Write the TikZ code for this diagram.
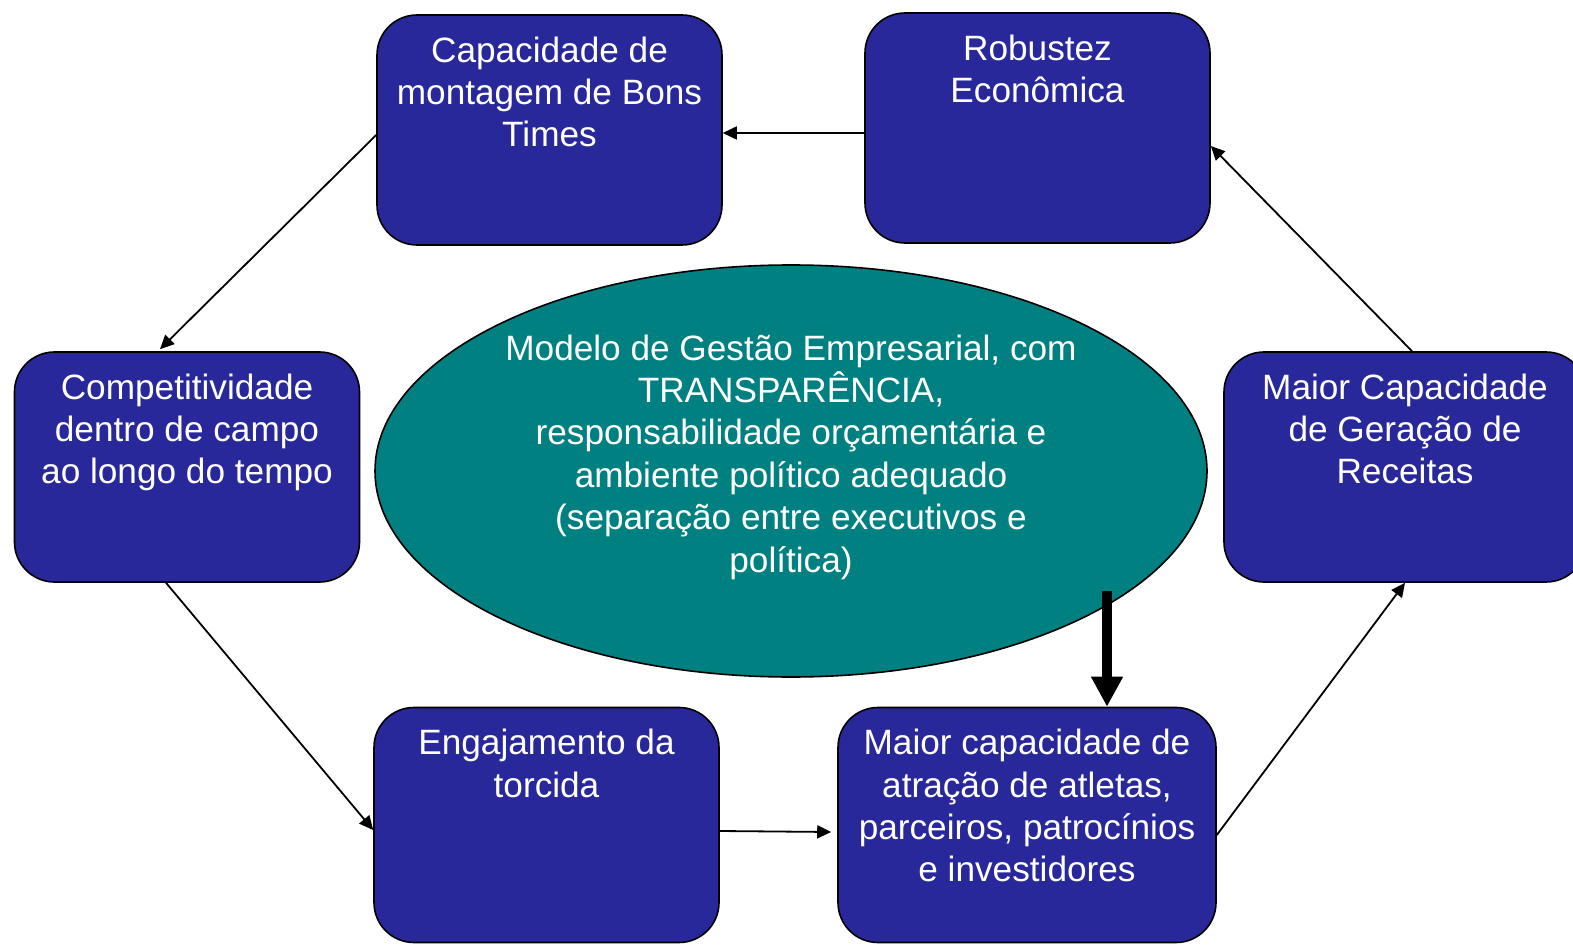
\documentclass[tikz,border=0pt]{standalone}
\usepackage{fontspec}
\setmainfont{Liberation Sans}
\usetikzlibrary{arrows.meta,calc,shapes.geometric}
\definecolor{boxblue}{RGB}{40,40,155}
\definecolor{ellteal}{RGB}{0,128,128}
\begin{document}
\begin{tikzpicture}[x=0.5pt,y=-0.5pt,
  bluebox/.style={draw=black,line width=0.8pt,fill=boxblue,rounded corners=20pt,
    minimum width=172.5pt,minimum height=115pt,inner sep=0pt},
  boxtext/.style={anchor=north,inner sep=0pt,align=center,text=white,
    font=\fontsize{17.6}{21.2}\selectfont},
  conn/.style={draw=black,line width=0.9pt,-{Triangle[width=6.5pt,length=7pt]}}]
\useasboundingbox (0,0) rectangle (1573,946);
% boxes
\node[bluebox] (A) at (549.5,130) {};
\node[bluebox] (B) at (1037.5,128) {};
\node[bluebox] (C) at (187,467) {};
\node[bluebox,minimum width=181pt] (D) at (1405,467) {};
\node[bluebox,minimum height=117.5pt] (E) at (546.5,825) {};
\node[bluebox,minimum width=189pt,minimum height=117.5pt] (F) at (1027,825) {};
\node[ellipse,draw=black,line width=0.8pt,fill=ellteal,minimum width=416pt,minimum height=206pt,inner sep=0pt] (G) at (791,471) {};
% texts
\node[boxtext] (tA) at ($(A.north)+(0,22)$) {Capacidade de\\montagem de Bons\\Times};
\node[boxtext] (tB) at ($(B.north)+(0,22)$) {Robustez\\Econômica};
\node[boxtext] (tC) at ($(C.north)+(0,22)$) {Competitividade\\dentro de campo\\ao longo do tempo};
\node[boxtext] (tD) at ($(D.north)+(0,22)$) {Maior Capacidade\\de Geração de\\Receitas};
\node[boxtext] (tE) at ($(E.north)+(0,22)$) {Engajamento da\\torcida};
\node[boxtext] (tF) at ($(F.north)+(0,22)$) {Maior capacidade de\\atração de atletas,\\parceiros, patrocínios\\e investidores};
\node[boxtext,anchor=center] (tG) at ($(G.center)+(0,-14)$) {Modelo de Gestão Empresarial, com\\TRANSPARÊNCIA,\\responsabilidade orçamentária e\\ambiente político adequado\\(separação entre executivos e\\política)};
% connectors
\draw[conn] ($(B.west)+(0,5)$) -- ($(A.east)+(0,3)$);
\draw[conn] ($(A.west)+(0,5)$) -- ($(C.north)+(-27,-2)$);
\draw[conn] ($(C.south)+(-21,0)$) -- ($(E.west)+(0,5)$);
\draw[conn] ($(E.east)+(0,6)$) -- ($(F.west)+(-6,7)$);
\draw[conn] ($(F.east)+(0,10)$) -- ($(D.south)+(0,0)$);
\draw[conn] ($(D.north)+(7,0)$) -- ($(B.east)+(0,18)$);
\coordinate (gs) at (1107,591);
\draw[line width=5pt,-{Triangle[width=15pt,length=15pt]}] (gs) -- (gs |- F.north);
\end{tikzpicture}
\end{document}
